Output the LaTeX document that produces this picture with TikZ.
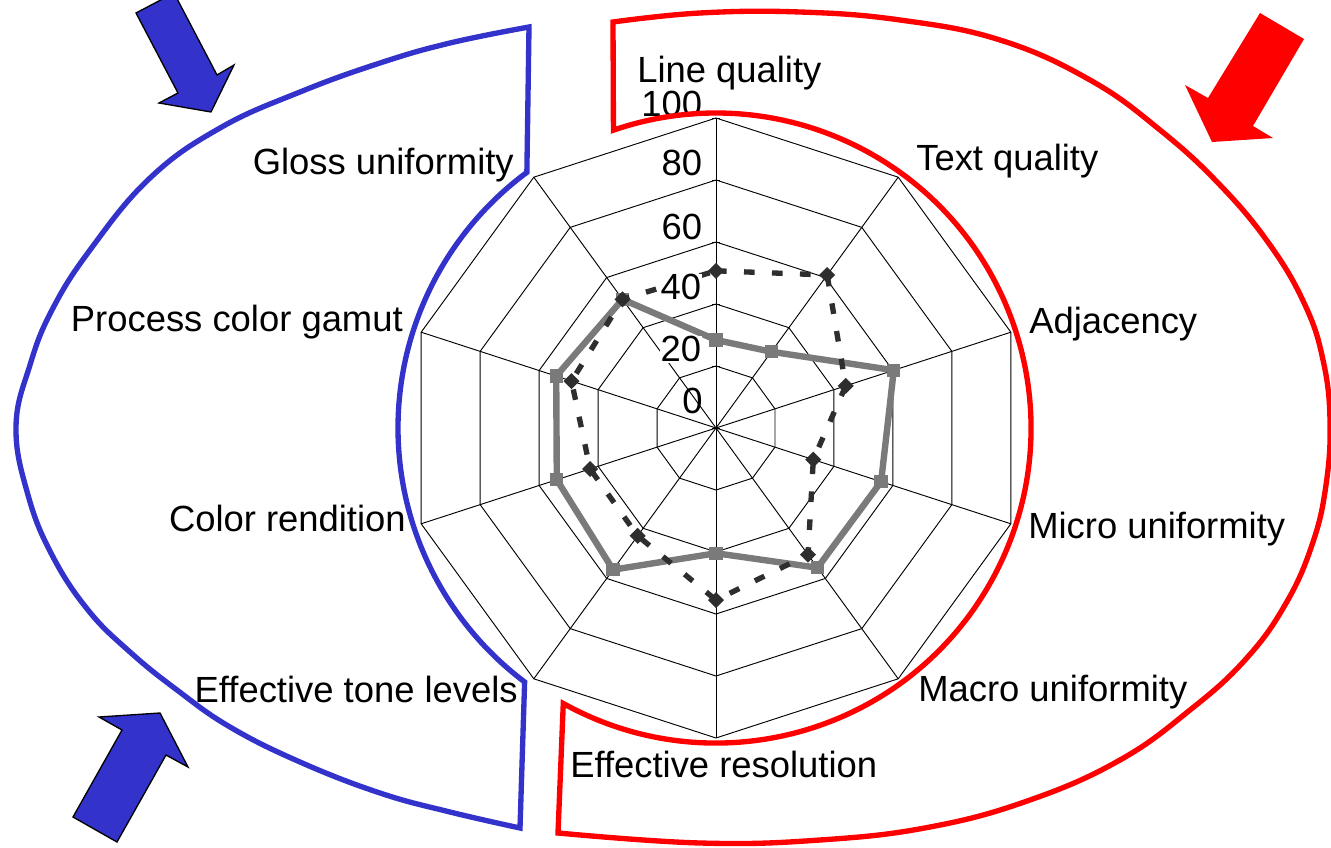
\documentclass[tikz,border=0pt]{standalone}
\usepackage{fontspec}
\setmainfont{Liberation Sans}
\usetikzlibrary{calc}
\definecolor{bluec}{HTML}{3333CC}
\definecolor{redc}{HTML}{FF0000}
\definecolor{darkser}{HTML}{2E2E2E}
\definecolor{grayser}{HTML}{7A7A7A}
\begin{document}
\begin{tikzpicture}[x=0.75pt,y=-0.75pt,
  lbl/.style={inner sep=0pt, font=\fontsize{27.3}{31}\selectfont},
  numlbl/.style={lbl, fill=white, inner sep=0.5pt},
  gridline/.style={black, line width=0.7pt},
  dashser/.style={darkser, line width=4pt, dash pattern=on 8pt off 13pt},
  grayline/.style={grayser, line width=4.8pt, line join=round},
  diam/.style={fill=darkser, draw=none, rectangle, rotate=45, minimum size=8.5pt, inner sep=0pt},
  sqm/.style={fill=grayser, draw=none, rectangle, minimum size=10pt, inner sep=0pt},
  blueline/.style={draw=bluec, line width=4pt, line join=miter},
  redline/.style={draw=redc, line width=4pt, line join=miter},
  bluearrow/.style={fill=bluec, draw=black, line width=1pt, line join=miter},
  redarrow/.style={fill=redc, draw=none}]
\useasboundingbox (0,0) rectangle (1331,848);
\clip (0,0) rectangle (1331,848);
\coordinate (c) at (716,428);

% grid
\foreach \r in {62,124,186,248,310} {
  \draw[gridline] ($(c)+(-90:\r)$) \foreach \k in {1,...,9}{ -- ($(c)+({-90+36*\k}:\r)$) } -- cycle;
}
\foreach \k in {0,...,9} {
  \draw[gridline] (c) -- ($(c)+({-90+36*\k}:310)$);
}
\foreach \r in {0,62,124,186,248,310} {
  \draw[gridline] ($(c)+(-4,-\r)$) -- ($(c)+(4,-\r)$);
}

% data points
\foreach \v [count=\i from 0] in {28.4,30.4,60.3,56,55.7,40.4,56.5,54,54.2,51.3} {
  \coordinate (g\i) at ($(c)+({-90+36*\i}:{\v*3.1})$);
}
\foreach \v [count=\i from 0] in {50.7,61,44,33,50.5,55.5,43,42.7,49,51.3} {
  \coordinate (d\i) at ($(c)+({-90+36*\i}:{\v*3.1})$);
}

% gray series
\draw[grayline] (g0) -- (g1) -- (g2) -- (g3) -- (g4) -- (g5) -- (g6) -- (g7) -- (g8) -- (g9) -- cycle;
\foreach \i in {0,...,9} { \node[sqm] (gm\i) at (g\i) {}; }
% dashed series
\draw[dashser] (d0) -- (d1) -- (d2) -- (d3) -- (d4) -- (d5) -- (d6) -- (d7) -- (d8) -- (d9) -- (d0);
\foreach \i in {0,...,9} { \node[diam] (dm\i) at (d\i) {}; }

% axis numbers
\node[numlbl, anchor=base east] (n100) at (703,117) {100};
\node[numlbl, anchor=base east] (n80) at (703,176) {80};
\node[numlbl, anchor=base east] (n60) at (703,240) {60};
\node[numlbl, anchor=base east] (n40) at (702,300) {40};
\node[numlbl, anchor=base east] (n20) at (702,362) {20};
\node[lbl, anchor=base east] (n0) at (703,413) {0};

% category labels
\node[lbl, anchor=base west] (lq) at (637,83) {Line quality};
\node[lbl, anchor=base west] (tq) at (916,171) {Text quality};
\node[lbl, anchor=base west] (adj) at (1029,334) {Adjacency};
\node[lbl, anchor=base west] (micro) at (1028,538) {Micro uniformity};
\node[lbl, anchor=base west] (macro) at (918,701) {Macro uniformity};
\node[lbl, anchor=base west] (effres) at (570,777) {Effective resolution};
\node[lbl, anchor=base east] (efftone) at (518,702) {Effective tone levels};
\node[lbl, anchor=base east] (colr) at (406,531) {Color rendition};
\node[lbl, anchor=base east] (pcg) at (403,332) {Process color gamut};
\node[lbl, anchor=base east] (gloss) at (514,175) {Gloss uniformity};

% blue outline
\draw[blueline] plot[smooth, tension=0.7] coordinates {(529,27) (450,43) (380,63) (300,92) (220,128) (150,178) (90,250) (52,310) (30,365) (16,427) (28,495) (52,555) (88,610) (130,652) (177,690) (230,727) (300,762) (380,793) (450,812) (520,828)}
  -- ($(c)+(127:318)$) arc[start angle=127, end angle=233.5, radius=318] -- cycle;

% red outline
\draw[redline] plot[smooth, tension=0.7] coordinates {(613,22) (700,13) (800,12) (900,20) (1000,40) (1090,80) (1160,130) (1220,185) (1270,245) (1305,305) (1323,360) (1330,420) (1326,485) (1312,545) (1285,605) (1245,660) (1190,710) (1120,760) (1030,800) (930,827) (820,840) (700,843) (558,833)}
  -- ($(c)+(119:315)$) arc[start angle=119, end angle=-109, radius=315] -- cycle;

% block arrows
\draw[bluearrow] (136,13) -- (174,-7) -- (217,75) -- (234,65) -- (211,112) -- (159,103) -- (178,93) -- cycle;
\draw[bluearrow] (73,817) -- (117,842) -- (166,755) -- (188,767) -- (160,713) -- (99,717) -- (122,730) -- cycle;
\draw[redarrow] (1260,13) -- (1304,39) -- (1253,126) -- (1273,138) -- (1212,142) -- (1185,85) -- (1208,98) -- cycle;
\end{tikzpicture}
\end{document}
